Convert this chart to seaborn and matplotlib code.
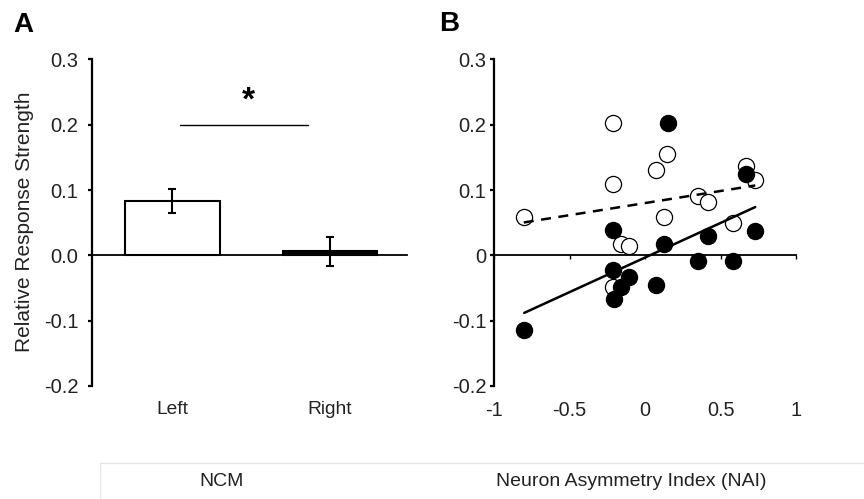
import numpy as np
import pandas as pd
import matplotlib
matplotlib.use("Agg")
import matplotlib.pyplot as plt
import seaborn as sns

# ---- data ----
categories = ["Left", "Right"]
bar_values = [0.083, 0.006]
bar_errors = [0.018, 0.022]

open_x = [-0.803, -0.211, -0.215, 0.071, 0.147, 0.124, -0.158, -0.105, -0.211, 0.352, 0.420, 0.583, 0.672, 0.730]
open_y = [0.059, 0.203, 0.109, 0.130, 0.156, 0.059, 0.017, 0.014, -0.049, 0.091, 0.082, 0.050, 0.137, 0.115]
fill_x = [-0.800, -0.215, -0.211, -0.207, -0.156, -0.109, 0.071, 0.124, 0.149, 0.352, 0.420, 0.583, 0.672, 0.730]
fill_y = [-0.114, 0.039, -0.023, -0.067, -0.049, -0.033, -0.046, 0.017, 0.203, -0.008, 0.029, -0.009, 0.125, 0.038]

y_ticks = [-0.2, -0.1, 0.0, 0.1, 0.2, 0.3]
yticklabels_a = ["-0.2", "-0.1", "0.0", "0.1", "0.2", "0.3"]
yticklabels_b = ["-0.2", "-0.1", "0", "0.1", "0.2", "0.3"]
x_ticks_b = [-1, -0.5, 0, 0.5, 1]
xticklabels_b = ["-1", "-0.5", "0", "0.5", "1"]

sns.set_theme(style="white")
plt.rcParams['font.family'] = ['Liberation Sans', 'DejaVu Sans']
TXT = "#222222"

fig = plt.figure(figsize=(8.64, 4.99), dpi=100)
axA = fig.add_axes([0.1065, 0.2265, 0.3646, 0.6543])
axB = fig.add_axes([0.5718, 0.2265, 0.3495, 0.6543])

# ---- Panel A ----
dfA = pd.DataFrame({"cat": categories, "val": bar_values})
sns.barplot(data=dfA, x="cat", y="val", hue="cat", palette=["white", "black"],
            edgecolor="black", linewidth=1.5, width=0.6, legend=False, ax=axA, zorder=2)
axA.errorbar(range(len(categories)), bar_values, yerr=bar_errors, fmt="none",
             ecolor="black", elinewidth=1.5, capsize=3, capthick=1.5, zorder=3)
axA.set_xlim(-0.51, 1.49)

# ---- Panel B ----
dfO = pd.DataFrame({"x": open_x, "y": open_y})
dfF = pd.DataFrame({"x": fill_x, "y": fill_y})
sns.scatterplot(data=dfO, x="x", y="y", ax=axB, s=135, facecolor="white",
                edgecolor="black", linewidth=0.9, zorder=2)
sns.regplot(data=dfO, x="x", y="y", ax=axB, scatter=False, ci=None, truncate=True,
            line_kws=dict(color="black", lw=1.8, ls=(0, (4, 3)), zorder=3))
sns.regplot(data=dfF, x="x", y="y", ax=axB, scatter=False, ci=None, truncate=True,
            line_kws=dict(color="black", lw=1.8, zorder=3))
sns.scatterplot(data=dfF, x="x", y="y", ax=axB, s=135, color="black",
                edgecolor="black", linewidth=0.9, zorder=4)
axB.set_xlim(-1, 1)

for ax, ylabs, pad in [(axA, yticklabels_a, 7), (axB, yticklabels_b, 2.5)]:
    ax.set_ylim(-0.2, 0.3)
    ax.set_yticks(y_ticks)
    ax.set_yticklabels(ylabs)
    ax.set_xlabel("")
    ax.set_ylabel("")
    for s in ["top", "right"]:
        ax.spines[s].set_visible(False)
    ax.spines["left"].set_linewidth(1.6)
    ax.spines["left"].set_color("black")
    ax.spines["bottom"].set_position(("data", 0))
    ax.spines["bottom"].set_linewidth(1.3)
    ax.spines["bottom"].set_color("black")
    ax.spines["bottom"].set_zorder(1)
    ax.tick_params(axis="y", direction="out", length=3, width=1.6, color="black",
                   labelsize=14.5, labelcolor=TXT, pad=pad, left=True)
    ax.tick_params(axis="x", labelbottom=False)
    ax.set_facecolor("none")
    ax.grid(False)

axA.tick_params(axis="x", length=0)
axB.set_xticks(x_ticks_b)
axB.tick_params(axis="x", direction="out", length=3, width=1, color="black", bottom=True)

secA = axA.secondary_xaxis("bottom")
secA.set_xticks([0, 1])
secA.set_xticklabels(categories)
secA.tick_params(length=0, labelsize=13.8, labelcolor=TXT, pad=11)
secA.spines["bottom"].set_visible(False)

secB = axB.secondary_xaxis("bottom")
secB.set_xticks(x_ticks_b)
secB.set_xticklabels(xticklabels_b)
secB.tick_params(length=0, labelsize=14.3, labelcolor=TXT, pad=11)
secB.spines["bottom"].set_visible(False)

axA.set_ylabel("Relative Response Strength", fontsize=15, color=TXT)
axA.yaxis.set_label_coords(-0.185, 0.502)

# significance bar
axA.plot([0.05, 0.864], [0.2, 0.2], color="black", lw=1.0)
axA.text(0.48, 0.236, "*", ha="center", va="center", fontsize=24, fontweight="bold", color="black")

fig.text(23 / 864, 1 - 25 / 499, "A", ha="center", va="center", fontsize=20, fontweight="bold", color="black")
fig.text(449 / 864, 1 - 24 / 499, "B", ha="center", va="center", fontsize=20, fontweight="bold", color="black")

# bottom caption box
fig.add_artist(plt.Line2D([100 / 864, 1], [1 - 463 / 499] * 2, color="#e6e6e6", lw=1))
fig.add_artist(plt.Line2D([100 / 864] * 2, [0, 1 - 463 / 499], color="#e6e6e6", lw=1))
fig.text(221.5 / 864, 1 - 481.5 / 499, "NCM", ha="center", va="center", fontsize=14, color=TXT)
fig.text(631.5 / 864, 1 - 481.5 / 499, "Neuron Asymmetry Index (NAI)", ha="center", va="center", fontsize=14, color=TXT)

fig.savefig("out.png", dpi=100)
